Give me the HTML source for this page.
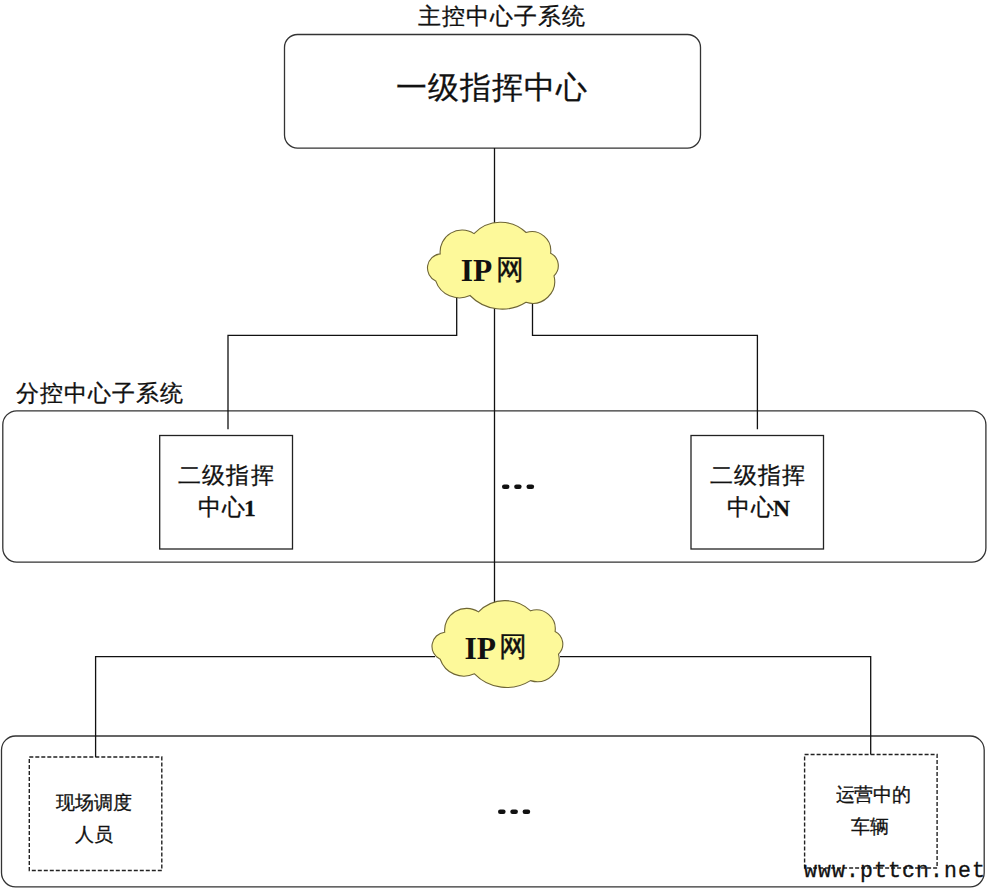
<!DOCTYPE html>
<html><head><meta charset="utf-8">
<style>
html,body{margin:0;padding:0;background:#fff;width:987px;height:888px;overflow:hidden;position:relative}
svg{position:absolute;left:0;top:0}
.t{position:absolute;font-family:"Liberation Sans",sans-serif;color:#111;white-space:nowrap;line-height:1}
.b{font-family:"Liberation Serif",serif;font-weight:bold}
.n{font-size:23.5px;letter-spacing:0;margin-left:-2px;position:relative;top:0.6px}
.cj{-webkit-text-stroke:0.3px #111}
</style></head><body>
<svg width="987" height="888" viewBox="0 0 987 888">
<g fill="none" stroke="#333" stroke-width="1.3">
<rect x="284.5" y="34.5" width="416" height="113.6" rx="13" ry="13"/>
<rect x="2.8" y="410.8" width="983.1" height="151.3" rx="14" ry="14"/>
<rect x="1.5" y="736" width="982.7" height="150.8" rx="14" ry="14"/>
</g>
<g fill="none" stroke="#222" stroke-width="1.3">
<rect x="159.7" y="435.5" width="132.8" height="113.5"/>
<rect x="691" y="435.5" width="132.5" height="113.5"/>
</g>
<g fill="none" stroke="#222" stroke-width="1.4" stroke-dasharray="4,2">
<rect x="29.3" y="757" width="132.5" height="113.5"/>
<rect x="804.6" y="754.5" width="132.5" height="113.5"/>
</g>
<g fill="none" stroke="#111" stroke-width="1.3">
<line x1="494.5" y1="148" x2="494.5" y2="225"/>
<line x1="494.5" y1="305" x2="494.5" y2="603"/>
<polyline points="456.7,297 456.7,335.4 228,335.4 228,429.3"/>
<polyline points="532.5,300 532.5,335.4 757.4,335.4 757.4,429.3"/>
<polyline points="435,656.6 95.6,656.6 95.6,757"/>
<polyline points="560,656.6 870.7,656.6 870.7,754.5"/>
</g>
<g fill="#fdf99a" stroke="#6e6535" stroke-width="1.1">
<path transform="translate(427,222.5)" d="M13.2,31.4 A21.9,21.9 0 0 1 47,11.1 A37.0,37.0 0 0 1 99.1,10 A19.0,19.0 0 0 1 123.6,30.7 A14.0,14.0 0 0 1 127,53.3 A22.1,22.1 0 0 1 99,79.8 A44.8,44.8 0 0 1 43,73 A25.1,25.1 0 0 1 8.7,58.4 A14.2,14.2 0 0 1 13.2,31.4 Z"/>
<path transform="translate(431.5,600.8)" d="M13.2,31.4 A21.9,21.9 0 0 1 47,11.1 A37.0,37.0 0 0 1 99.1,10 A19.0,19.0 0 0 1 123.6,30.7 A14.0,14.0 0 0 1 127,53.3 A22.1,22.1 0 0 1 99,79.8 A44.8,44.8 0 0 1 43,73 A25.1,25.1 0 0 1 8.7,58.4 A14.2,14.2 0 0 1 13.2,31.4 Z"/>
</g>
<g fill="#111">
<rect x="502" y="484.4" width="7.4" height="4.6" rx="2.2"/>
<rect x="514.2" y="484.4" width="7.4" height="4.6" rx="2.2"/>
<rect x="526.5" y="484.4" width="7.6" height="4.6" rx="2.2"/>
<rect x="498" y="809.6" width="7.6" height="4.4" rx="2.2"/>
<rect x="510.3" y="809.6" width="7.6" height="4.4" rx="2.2"/>
<rect x="522.6" y="809.6" width="7.6" height="4.4" rx="2.2"/>
</g>
</svg>
<div class="t cj" id="t1" style="left:418.2px;top:5.4px;font-size:23px;letter-spacing:1px">主控中心子系统</div>
<div class="t cj" id="t2" style="left:396.2px;top:72.2px;font-size:30.5px;letter-spacing:1.05px">一级指挥中心</div>
<div class="t b" id="c1i" style="left:460.8px;top:254.6px;font-size:31.5px">IP</div>
<div class="t cj" id="c1w" style="left:496.2px;top:255.6px;font-size:28px">网</div>
<div class="t cj" id="t3" style="left:16.2px;top:382.4px;font-size:23px;letter-spacing:1px">分控中心子系统</div>
<div class="t cj" id="b1a" style="left:178.0px;top:465.0px;font-size:22.5px;letter-spacing:1.2px">二级指挥</div>
<div class="t cj" id="b1b" style="left:197.5px;top:496px;font-size:22.5px;letter-spacing:1.2px">中心<span class="b n">1</span></div>
<div class="t cj" id="bna" style="left:709.5px;top:465.0px;font-size:22.5px;letter-spacing:1.2px">二级指挥</div>
<div class="t cj" id="bnb" style="left:726.5px;top:496px;font-size:22.5px;letter-spacing:1.2px">中心<span class="b n">N</span></div>
<div class="t b" id="c2i" style="left:464.4px;top:633.0px;font-size:31.5px">IP</div>
<div class="t cj" id="c2w" style="left:499.2px;top:633.0px;font-size:28px">网</div>
<div class="t cj" id="d1a" style="left:56.2px;top:792.8px;font-size:19px">现场调度</div>
<div class="t cj" id="d1b" style="left:75.0px;top:824.6px;font-size:19px">人员</div>
<div class="t cj" id="dna" style="left:835.6px;top:785.3px;font-size:19px;letter-spacing:-0.3px">运营中的</div>
<div class="t cj" id="dnb" style="left:850.6px;top:817.4px;font-size:19px">车辆</div>
<div class="t" id="wm" style="left:804.1px;top:860.9px;font-size:21.5px;letter-spacing:1.08px;font-family:'Liberation Mono',monospace;-webkit-text-stroke:0.3px #111">www.pttcn.net</div>
</body></html>
